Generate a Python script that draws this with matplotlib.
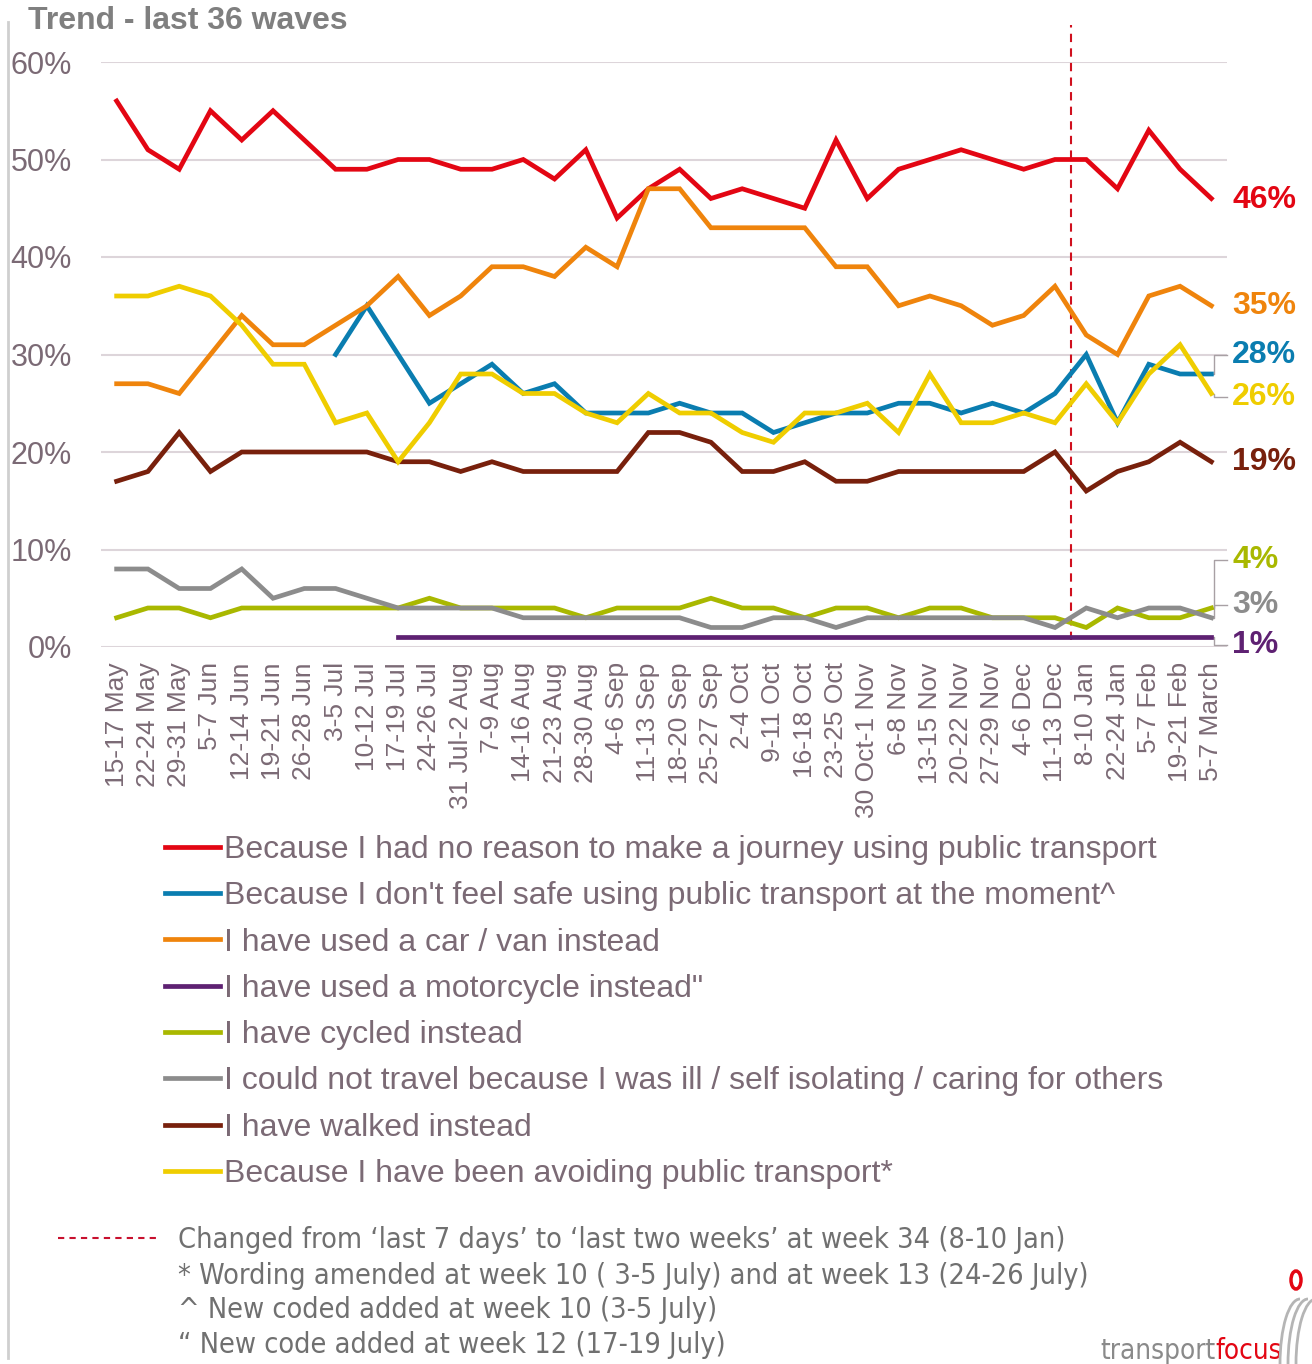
import numpy as np
import matplotlib
matplotlib.use("Agg")
import matplotlib.pyplot as plt
from matplotlib.lines import Line2D
from matplotlib.patches import Ellipse, Arc

plt.rcParams['font.family'] = ['Liberation Sans', 'DejaVu Sans']

waves = ['15-17 May', '22-24 May', '29-31 May', '5-7 Jun', '12-14 Jun', '19-21 Jun',
         '26-28 Jun', '3-5 Jul', '10-12 Jul', '17-19 Jul', '24-26 Jul', '31 Jul-2 Aug',
         '7-9 Aug', '14-16 Aug', '21-23 Aug', '28-30 Aug', '4-6 Sep', '11-13 Sep',
         '18-20 Sep', '25-27 Sep', '2-4 Oct', '9-11 Oct', '16-18 Oct', '23-25 Oct',
         '30 Oct-1 Nov', '6-8 Nov', '13-15 Nov', '20-22 Nov', '27-29 Nov', '4-6 Dec',
         '11-13 Dec', '8-10 Jan', '22-24 Jan', '5-7 Feb', '19-21 Feb', '5-7 March']

no_reason = [56, 51, 49, 55, 52, 55, 52, 49, 49, 50, 50, 49, 49, 50, 48, 51, 44, 47,
             49, 46, 47, 46, 45, 52, 46, 49, 50, 51, 50, 49, 50, 50, 47, 53, 49, 46]
not_safe = [None] * 7 + [30, 35, 30, 25, 27, 29, 26, 27, 24, 24, 24, 25, 24, 24, 22,
                         23, 24, 24, 25, 25, 24, 25, 24, 26, 30, 23, 29, 28, 28]
car_van = [27, 27, 26, 30, 34, 31, 31, 33, 35, 38, 34, 36, 39, 39, 38, 41, 39, 47,
           47, 43, 43, 43, 43, 39, 39, 35, 36, 35, 33, 34, 37, 32, 30, 36, 37, 35]
motorcycle = [None] * 9 + [1] * 27
cycled = [3, 4, 4, 3, 4, 4, 4, 4, 4, 4, 5, 4, 4, 4, 4, 3, 4, 4,
          4, 5, 4, 4, 3, 4, 4, 3, 4, 4, 3, 3, 3, 2, 4, 3, 3, 4]
ill = [8, 8, 6, 6, 8, 5, 6, 6, 5, 4, 4, 4, 4, 3, 3, 3, 3, 3,
       3, 2, 2, 3, 3, 2, 3, 3, 3, 3, 3, 3, 2, 4, 3, 4, 4, 3]
walked = [17, 18, 22, 18, 20, 20, 20, 20, 20, 19, 19, 18, 19, 18, 18, 18, 18, 22,
          22, 21, 18, 18, 19, 17, 17, 18, 18, 18, 18, 18, 20, 16, 18, 19, 21, 19]
avoiding = [36, 36, 37, 36, 33, 29, 29, 23, 24, 19, 23, 28, 28, 26, 26, 24, 23, 26,
            24, 24, 22, 21, 24, 24, 25, 22, 28, 23, 23, 24, 23, 27, 23, 28, 31, 26]

series = [
    ("Because I had no reason to make a journey using public transport", no_reason, '#E30613'),
    ("Because I don't feel safe using public transport at the moment^", not_safe, '#0A7DB0'),
    ("I have used a car / van instead", car_van, '#EF840C'),
    ("I have used a motorcycle instead\"", motorcycle, '#5E2172'),
    ("I have cycled instead", cycled, '#A9B800'),
    ("I could not travel because I was ill / self isolating / caring for others", ill, '#8C8C8C'),
    ("I have walked instead", walked, '#78200C'),
    ("Because I have been avoiding public transport*", avoiding, '#EFCD00'),
]
# draw order so that yellow sits over blue etc.
draw_order = [6, 4, 5, 3, 2, 1, 7, 0]

txt_col = '#7B6A75'
W, H = 1312, 1364
fig = plt.figure(figsize=(W / 100, H / 100), dpi=100)
ax = fig.add_axes([101 / W, 1 - 647 / H, (1227 - 101) / W, (647 - 62) / H])

x = np.arange(len(waves))
handles = {}
for i in draw_order:
    name, vals, col = series[i]
    y = np.array([np.nan if v is None else v for v in vals], dtype=float)
    h, = ax.plot(x, y, color=col, lw=3.4, solid_joinstyle='miter', zorder=3 + i * 0.01)
    handles[i] = h

ax.set_xlim(-0.5, len(waves) - 0.5)
ax.set_ylim(0, 60)
ax.set_yticks(range(0, 61, 10))
ax.set_yticklabels([f'{v}%' for v in range(0, 61, 10)], fontsize=22, color=txt_col)
ax.set_xticks(x)
ax.set_xticklabels(waves, rotation=90, fontsize=19, color=txt_col)
ax.tick_params(axis='x', length=0, pad=11)
ax.tick_params(axis='y', length=0, pad=21)
ax.grid(axis='y', color='#DDD5DA', lw=1.5)
ax.set_axisbelow(True)
for s in ax.spines.values():
    s.set_visible(False)

# change of wording marker
ax.plot([30.5, 30.5], [0.7, 63.8], color='#D0101E', lw=1.5, ls=(0, (4, 3)),
        clip_on=False, zorder=2)

# end labels with leader lines
end_labels = [('46%', 45.8, 0), ('35%', 35.0, 2), ('28%', 29.9, 1), ('26%', 25.6, 7),
              ('19%', 19.0, 6), ('4%', 8.9, 4), ('3%', 4.3, 5), ('1%', 0.2, 3)]
lx = 35.67
for lab, ly, si in end_labels:
    ax.text(lx, ly, lab, color=series[si][2], fontsize=23, fontweight='bold',
            va='center', ha='left', clip_on=False)
last = len(waves) - 1
lead = '#A8A0A4'
leaders = [(avoiding[-1], 25.6), (not_safe[-1], 29.9), (cycled[-1], 8.9),
           (ill[-1], 4.3), (motorcycle[-1], 0.2)]
for y0, y1 in leaders:
    ax.plot([last, last + 0.1, last + 0.1, last + 0.5], [y0, y0, y1, y1],
            color=lead, lw=1, clip_on=False, zorder=2)

# legend
order = [0, 1, 2, 3, 4, 5, 6, 7]
fig.legend([handles[i] for i in order], [series[i][0] for i in order],
           loc='upper left', bbox_to_anchor=(165 / W, 1 - 835 / H), frameon=False,
           fontsize=23, handlelength=1.72, handletextpad=0.13, labelspacing=0.51,
           labelcolor=txt_col, borderaxespad=0, borderpad=0)

# title
fig.text(28 / W, 1 - 21 / H, 'Trend - last 36 waves', fontsize=23, fontweight='bold',
         color='#7F7F7F', va='center', ha='left')

# slide frame on the left
fig.add_artist(Line2D([8 / W, 8 / W], [1 - 22 / H, 6 / H], color='#CFCFCF', lw=2))

# footnotes
fig.add_artist(Line2D([58 / W, 160 / W], [1 - 1238 / H, 1 - 1238 / H], color='#C8102E',
                      lw=1.5, ls=(0, (3, 2.5))))
notes = ["Changed from \u2018last 7 days\u2019 to \u2018last two weeks\u2019 at week 34 (8-10 Jan)",
         "* Wording amended at week 10 ( 3-5 July) and at week 13 (24-26 July)",
         "^ New coded added at week 10 (3-5 July)",
         "\u201c New code added at week 12 (17-19 July)"]
note_y = [1240, 1276, 1310, 1345]
for t, ny in zip(notes, note_y):
    fig.text(178 / W, 1 - ny / H, t, fontsize=20.7, color='#707070', va='center',
             ha='left', family='DejaVu Sans', fontstretch='condensed')

# logo
t1 = fig.text(1100 / W, 1 - 1359 / H, 'transport', fontsize=20, color='#8A8A8A',
              va='baseline', ha='left', family='DejaVu Sans', fontstretch='condensed')
ax.annotate('focus', xy=(1, 0), xycoords=t1, va='bottom', ha='left', fontsize=20,
            color='#E30613', family='DejaVu Sans', fontstretch='condensed',
            annotation_clip=False)
fig.add_artist(Ellipse((1296 / W, 1 - 1280 / H), 10 / W, 18 / H, transform=fig.transFigure,
                       fill=False, edgecolor='#E30613', lw=2.5))
for dx in (0, 8, 16):
    fig.add_artist(Arc(((1300 + dx) / W, 1 - 1364 / H), 40 / W, 130 / H,
                       theta1=90, theta2=180, transform=fig.transFigure,
                       edgecolor='#B5B5B5', lw=2))

fig.savefig('out.png', dpi=100)
